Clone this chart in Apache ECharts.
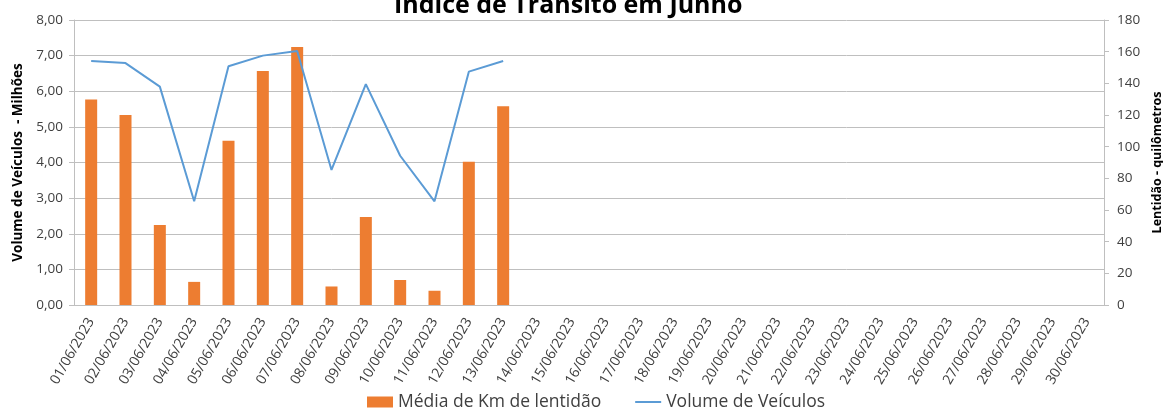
<!DOCTYPE html>
<html>
<head>
	<meta charset="utf-8">
	<title>Índice de Trânsito em Junho</title>
	<script src="https://cdn.jsdelivr.net/npm/echarts@6/dist/echarts.min.js"></script>
	<style>
		html, body { margin: 0; padding: 0; background: #fff; }
		#chart { width: 1163px; height: 408px; }
	</style>
</head>
<body>
<div id="chart"></div>
<script>
	// dias de junho
	var dias = [];
	for (var d = 1; d <= 30; d++) {
		dias.push((d < 10 ? '0' + d : '' + d) + '/06/2023');
	}
	// Média de Km de lentidão (eixo direito, km)
	var kmLentidao = [129.8, 120.0, 50.6, 14.6, 103.7, 147.8, 162.9, 11.7, 55.6, 15.8, 9.0, 90.5, 125.6];
	// Volume de Veículos (eixo esquerdo, milhões)
	var volumeVeiculos = [6.85, 6.79, 6.13, 2.91, 6.70, 7.00, 7.13, 3.79, 6.20, 4.19, 2.91, 6.55, 6.85];

	var fonte = '"Open Sans", "Noto Sans", sans-serif';
	var cinza = '#404040';

	var myChart = echarts.init(document.getElementById('chart'));
	var option = {
		animation: false,
		title: {
			text: 'Índice de Trânsito em Junho',
			left: 389,
			top: -12,
			textStyle: { fontFamily: fonte, fontWeight: 'bold', fontSize: 25, color: '#000' }
		},
		legend: {
			bottom: -8,
			left: 362,
			itemGap: 34,
			itemWidth: 26,
			itemHeight: 11,
			textStyle: { fontFamily: fonte, fontSize: 17.5, color: cinza },
			data: [
				{ name: 'Média de Km de lentidão', icon: 'rect' },
				{ name: 'Volume de Veículos', icon: 'path://M0,4.5L26,4.5L26,6.5L0,6.5Z' }
			]
		},
		grid: { left: 74, right: 59, top: 20, bottom: 103, containLabel: false, outerBoundsMode: 'none' },
		xAxis: {
			type: 'category',
			data: dias,
			axisLine: { lineStyle: { color: '#bfbfbf' } },
			axisTick: { alignWithLabel: false, length: 5, lineStyle: { color: '#bfbfbf' } },
			axisLabel: { rotate: 60, interval: 0, fontFamily: fonte, fontSize: 14, color: cinza, margin: 14 }
		},
		yAxis: [
			{
				type: 'value',
				name: 'Volume de Veículos  - Milhões',
				nameLocation: 'middle',
				nameGap: 49,
				nameTextStyle: { fontFamily: fonte, fontWeight: 'bold', fontSize: 13.5, color: '#000' },
				min: 0, max: 8, interval: 1,
				axisLine: { show: true, lineStyle: { color: '#bfbfbf' } },
				axisTick: { show: true, length: 5, lineStyle: { color: '#bfbfbf' } },
				splitLine: { lineStyle: { color: '#bfbfbf' } },
				axisLabel: {
					fontFamily: fonte, fontSize: 13.5, color: cinza, margin: 11,
					formatter: function (v) { return v.toFixed(2).replace('.', ','); }
				}
			},
			{
				type: 'value',
				name: 'Lentidão - quilômetros',
				nameLocation: 'middle',
				nameGap: 46,
				nameRotate: 90,
				nameTextStyle: { fontFamily: fonte, fontWeight: 'bold', fontSize: 12.5, color: '#000' },
				min: 0, max: 180, interval: 20,
				position: 'right',
				axisLine: { show: true, lineStyle: { color: '#bfbfbf' } },
				axisTick: { show: true, length: 5, lineStyle: { color: '#bfbfbf' } },
				splitLine: { show: false },
				axisLabel: { fontFamily: fonte, fontSize: 13.5, color: cinza, margin: 13 }
			}
		],
		series: [
			{
				name: 'Média de Km de lentidão',
				type: 'bar',
				yAxisIndex: 1,
				barWidth: 12,
				itemStyle: { color: '#ED7D31' },
				data: kmLentidao
			},
			{
				name: 'Volume de Veículos',
				type: 'line',
				yAxisIndex: 0,
				symbol: 'none',
				lineStyle: { color: '#5B9BD5', width: 2 },
				itemStyle: { color: '#5B9BD5' },
				data: volumeVeiculos
			}
		]
	};
	option && myChart.setOption(option);
</script>
</body>
</html>
